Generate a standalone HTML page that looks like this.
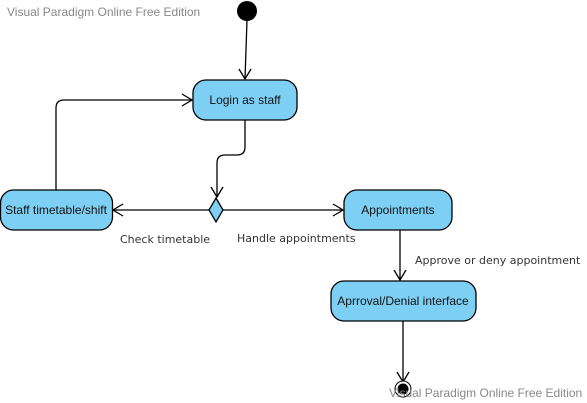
<!DOCTYPE html>
<html><head><style>
body{margin:0;background:#fff;width:587px;height:403px;overflow:hidden}
svg{display:block}
.n{font-family:"Liberation Sans",sans-serif;font-size:12px;fill:#111}
.l{font-family:"DejaVu Sans","Liberation Sans",sans-serif;font-size:11px;fill:#333}
.w{font-family:"Liberation Sans",sans-serif;font-size:12px;fill:#888}
</style></head><body>
<svg width="587" height="403" viewBox="0 0 587 403">
<g fill="none" stroke="#000" stroke-width="1.3">
<line x1="247" y1="20" x2="245" y2="79"/>
<polyline points="239,69 245,79 251,69"/>
<path d="M245,120 V147 Q245,155 237,155 H225 Q217,155 217,163 V197"/>
<polyline points="211,187 217,197 223,187"/>
<path d="M56,190 V108 Q56,100 64,100 H192"/>
<polyline points="182,94 192,100 182,106"/>
<line x1="209" y1="210" x2="113" y2="210"/>
<polyline points="123,204 113,210 123,216"/>
<line x1="223" y1="210" x2="343" y2="210"/>
<polyline points="333,204 343,210 333,216"/>
<line x1="400" y1="230" x2="400" y2="280"/>
<polyline points="394,270 400,280 406,270"/>
<line x1="403" y1="321" x2="403" y2="382"/>
<polyline points="397,372 403,382 409,372"/>
</g>
<circle cx="247" cy="11" r="10" fill="#000"/>
<g fill="#7dd0f4" stroke="#000" stroke-width="1.3">
<rect x="193" y="80" width="104" height="40" rx="13"/>
<rect x="0.5" y="190" width="112" height="40" rx="13"/>
<rect x="344" y="190" width="108" height="40" rx="13"/>
<rect x="331" y="281" width="145" height="40" rx="13"/>
<polygon points="216,198 223,210 216,222 209,210"/>
</g>
<circle cx="403" cy="389" r="8" fill="#fff" stroke="#000"/>
<circle cx="403" cy="389" r="5.5" fill="#000"/>
<text class="n" x="245" y="104" text-anchor="middle">Login as staff</text>
<text class="n" x="56" y="214" text-anchor="middle">Staff timetable/shift</text>
<text class="n" x="398" y="214" text-anchor="middle">Appointments</text>
<text class="n" x="403" y="305" text-anchor="middle">Aprroval/Denial interface</text>
<text class="l" x="120" y="243">Check timetable</text>
<text class="l" x="237" y="242">Handle appointments</text>
<text class="l" x="415" y="264">Approve or deny appointment</text>
<text class="w" x="7" y="16">Visual Paradigm Online Free Edition</text>
<text class="w" x="389" y="397">Visual Paradigm Online Free Edition</text>
</svg>
</body></html>
